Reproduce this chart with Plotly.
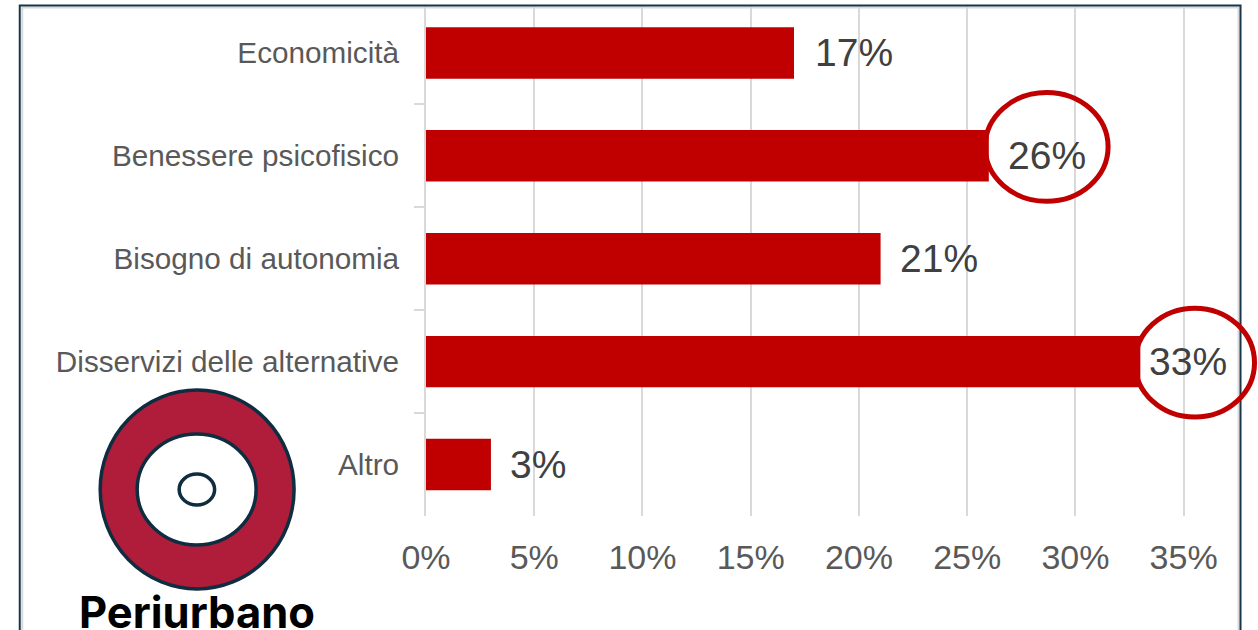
import plotly.graph_objects as go

categories = ["Economicità", "Benessere psicofisico", "Bisogno di autonomia", "Disservizi delle alternative", "Altro"]
values = [17, 26, 21, 33, 3]
labels = ["17%", "26%", "21%", "33%", "3%"]
label_shift = [19, 17, 17, 7, 17]
x_ticks = [0, 5, 10, 15, 20, 25, 30, 35]
x_ticklabels = ["0%", "5%", "10%", "15%", "20%", "25%", "30%", "35%"]

W, H = 1258, 630
L, T, B = 425.5, 6, 113.5
PW, PH = W - L, H - T - B

def px(x):
    return (x - L) / PW

def py(y):
    return 1 - (y - T) / PH

def ellipse(x0, y0, x1, y1, line, width, fill="rgba(0,0,0,0)"):
    return dict(type="circle", xref="paper", yref="paper", x0=px(x0), x1=px(x1), y0=py(y0), y1=py(y1),
                line=dict(color=line, width=width), fillcolor=fill, layer="above")

def frame(x0, y0, x1, y1, line, width):
    return dict(type="rect", xref="paper", yref="paper", x0=px(x0), x1=px(x1), y0=py(y0), y1=py(y1),
                line=dict(color=line, width=width), fillcolor="rgba(0,0,0,0)", layer="above")

NAVY = "#0F2D40"
shapes = [
    frame(21.5, 7.5, 1238.5, 660, "#D9D9D9", 2),
    frame(19, 5.5, 1240.5, 660, "#17364A", 2),
    ellipse(985, 92.5, 1108, 201.5, "#C00000", 5),
    ellipse(1135, 308.5, 1254.5, 417.5, "#C00000", 5),
    ellipse(99.5, 390.5, 293.5, 589.5, NAVY, 3.5, "#AF1D3A"),
    ellipse(136.5, 434.5, 255.5, 545.5, NAVY, 3.5, "#FFFFFF"),
    ellipse(178.5, 474.5, 214, 505.5, NAVY, 3.5, "#FFFFFF"),
]

annotations = [
    dict(x=v, y=c, xref="x", yref="y", text=t, showarrow=False, xanchor="left", yanchor="middle",
         xshift=s, yshift=0, font=dict(family="Liberation Sans", size=39, color="#404040"))
    for v, c, t, s in zip(values, categories, labels, label_shift)
]
annotations.append(dict(x=px(196.5), y=py(612.5), xref="paper", yref="paper", text="Periurbano", showarrow=False,
                        xanchor="center", yanchor="middle",
                        font=dict(family="Inter", size=43.5, color="#000000", weight=700)))

fig = go.Figure(go.Bar(y=categories, x=values, orientation="h", width=0.5,
                       marker=dict(color="#C00000", line=dict(width=0)), hoverinfo="skip"))
fig.update_layout(
    width=W, height=H, margin=dict(l=L, r=0, t=T, b=B, autoexpand=False),
    paper_bgcolor="#FFFFFF", plot_bgcolor="#FFFFFF", showlegend=False,
    shapes=shapes, annotations=annotations,
    xaxis=dict(range=[0, PW / 21.66], tickvals=x_ticks, ticktext=x_ticklabels, showgrid=True,
               gridcolor="#D9D9D9", gridwidth=2, zeroline=False, showline=False, ticks="",
               ticklabelstandoff=18, tickfont=dict(family="Liberation Sans", size=34, color="#595959")),
    yaxis=dict(type="category", categoryorder="array", categoryarray=categories,
               range=[4.5, -0.456], showgrid=False, zeroline=False, showline=True,
               linecolor="#D9D9D9", linewidth=2, tickson="boundaries", ticks="outside", ticklen=10,
               tickcolor="#D9D9D9", tickwidth=2, ticklabelstandoff=19,
               tickfont=dict(family="Liberation Sans", size=29.7, color="#595959")),
)
fig.write_html("out.html", config=dict(displayModeBar=False),
               post_script="document.body.style.margin='0';document.body.style.overflow='hidden';")
